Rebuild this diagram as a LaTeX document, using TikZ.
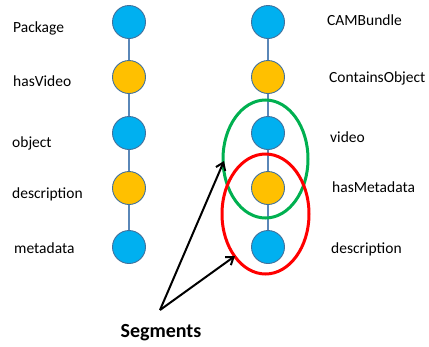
\documentclass[tikz,border=0pt]{standalone}
\usepackage{fontspec}
\setmainfont{Carlito}
\usetikzlibrary{shapes.geometric,arrows.meta}
\definecolor{cblue}{HTML}{00B0F0}
\definecolor{corange}{HTML}{FFC000}
\definecolor{cedge}{HTML}{41719C}
\definecolor{cline}{HTML}{5A87B8}
\definecolor{cgreen}{HTML}{00B050}
\definecolor{cred}{HTML}{FF0000}
\tikzset{
  bnode/.style={circle,draw=cedge,line width=0.9pt,fill=cblue,minimum size=33pt,inner sep=0pt},
  onode/.style={circle,draw=cedge,line width=0.9pt,fill=corange,minimum size=33pt,inner sep=0pt},
  lbl/.style={anchor=base west,inner sep=0pt,font=\fontsize{15.5}{18}\selectfont},
  link/.style={draw=cline,line width=1.4pt},
  segring/.style={ellipse,line width=3pt,inner sep=0pt},
  segarrow/.style={draw=black,line width=2pt,-{Straight Barb[length=7pt,width=10pt,line width=2pt]}}
}
\begin{document}
\begin{tikzpicture}[x=1pt,y=-1pt]
\useasboundingbox (0,0) rectangle (429,346);
% left column
\node[bnode] (l1) at (129,22) {};
\node[onode] (l2) at (129,77) {};
\node[bnode] (l3) at (129,133) {};
\node[onode] (l4) at (129,188) {};
\node[bnode] (l5) at (129,247) {};
% right column
\node[bnode] (r1) at (268,22) {};
\node[onode] (r2) at (268,77) {};
\node[bnode] (r3) at (268,133) {};
\node[onode] (r4) at (268,188) {};
\node[bnode] (r5) at (268,247) {};
% connectors
\path[link] (l1) -- (l2) (l2) -- (l3) (l3) -- (l4) (l4) -- (l5);
\path[link] (r1) -- (r2) (r2) -- (r3) (r3) -- (r4) (r4) -- (r5);
% labels
\node[lbl] (tl1) at (13,32) {Package};
\node[lbl] (tl2) at (13,86) {hasVideo};
\node[lbl] (tl3) at (12,147) {object};
\node[lbl] (tl4) at (12,198) {description};
\node[lbl] (tl5) at (14,253) {metadata};
\node[lbl] (tr1) at (327,25) {CAMBundle};
\node[lbl] (tr2) at (329,82) {ContainsObject};
\node[lbl] (tr3) at (330,142) {video};
\node[lbl] (tr4) at (332,192) {hasMetadata};
\node[lbl] (tr5) at (331,253) {description};
% segment rings
\node[segring,draw=cgreen,minimum width=85pt,minimum height=118pt] (g) at (265.5,159) {};
\node[segring,draw=cred,minimum width=87pt,minimum height=120pt] (rr) at (265.5,214) {};
% arrows
\coordinate (seg) at (160,310);
\coordinate (t1) at (224,161);
\coordinate (t2) at (235,256);
\draw[segarrow] (seg) -- (t1);
\draw[segarrow] (seg) -- (t2);
\node[anchor=base,inner sep=0pt,font=\bfseries\fontsize{20}{24}\selectfont] (segtxt) at (161,337) {Segments};
\end{tikzpicture}
\end{document}
